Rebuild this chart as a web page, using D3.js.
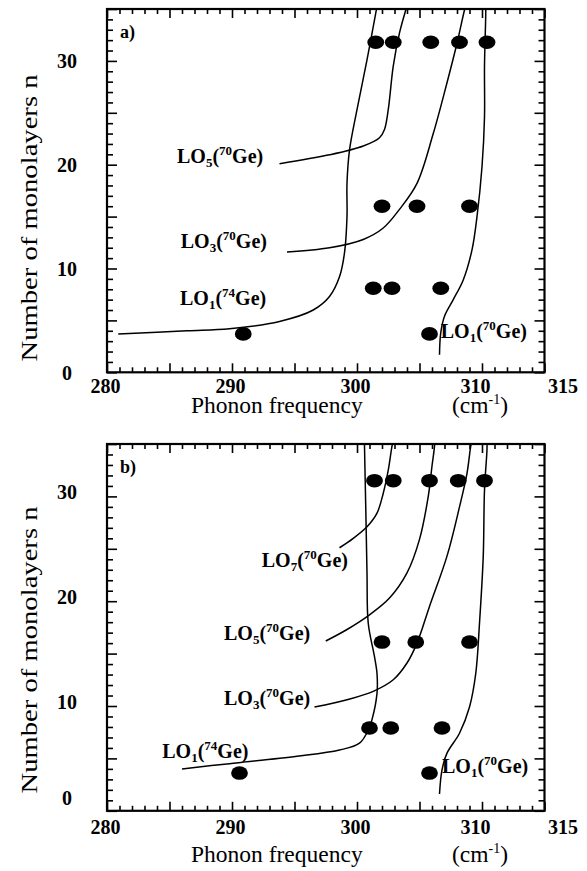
<!DOCTYPE html>
<html>
<head>
<meta charset="utf-8">
<script src="https://cdn.jsdelivr.net/npm/d3@7"></script>
<style>
body{margin:0;background:#fff;}
svg text{font-family:"Liberation Serif","Times New Roman",serif;fill:#000;}
</style>
</head>
<body>
<div id="chart"></div>
<script>
// axis values
const xTickLabels = [280, 290, 300, 310, 315];
const yTickLabels = [0, 10, 20, 30];
const xDomain = [280, 315];
const yDomain = [0, 35];

// panel a) : measured points [frequency, n]
const dotsA = [
    [301.5, 31.8], [302.9, 31.8], [305.9, 31.8], [308.2, 31.8], [310.4, 31.8],
    [302.0, 16.0], [304.8, 16.0], [309.0, 16.0],
    [301.3, 8.1], [302.8, 8.1], [306.7, 8.1],
    [290.9, 3.7], [305.8, 3.7]
];
// panel a) : calculated curves
const lo1_74A = [[280.9,3.7],[286.4,4.0],[289.8,4.2],[293.8,4.9],[296.5,6.0],[297.8,7.3],[298.6,9.2],[299.0,11.5],[299.2,15.0],[299.2,18.2],[299.4,21.4],[300.0,25.3],[300.8,30.1],[301.5,34.6],[301.6,35.3]];
const lo5_70A = [[293.8,20.1],[297.8,20.95],[300.5,21.8],[301.8,22.6],[302.2,23.4],[302.5,25.3],[302.9,29.5],[303.4,32.7],[303.9,34.9],[304.0,35.3]];
const lo3_70A = [[294.4,11.6],[297.8,12.0],[300.5,12.8],[302.1,13.9],[303.4,15.7],[304.8,18.2],[306.1,23.0],[307.2,27.9],[308.0,31.7],[308.6,34.9],[308.7,35.3]];
const lo1_70A = [[306.6,1.7],[306.7,3.8],[307.0,5.4],[307.7,7.0],[308.5,8.9],[309.2,11.8],[309.6,15.0],[310.0,19.8],[310.2,24.6],[310.2,29.5],[310.3,34.5],[310.3,35.3]];

// panel b)
const dotsB = [
    [301.4, 31.5], [302.9, 31.5], [305.8, 31.5], [308.1, 31.5], [310.2, 31.5],
    [302.0, 16.1], [304.7, 16.1], [309.0, 16.1],
    [301.0, 7.9], [302.7, 7.9], [306.8, 7.9],
    [290.6, 3.6], [305.8, 3.6]
];
const lo1_74B = [[286.0,4.0],[289.8,4.5],[295.2,5.2],[298.6,5.8],[300.2,6.45],[300.9,7.7],[301.2,8.7],[301.6,11.2],[301.6,13.1],[301.4,14.7],[300.9,17.9],[300.8,22.7],[300.7,29.0],[300.6,34.8],[300.6,35.3]];
const lo7_70B = [[298.6,25.1],[299.7,26.0],[300.8,27.1],[301.6,28.4],[302.1,30.3],[302.5,32.5],[302.8,34.8],[302.9,35.3]];
const lo5_70B = [[297.5,16.2],[299.2,17.3],[301.0,18.7],[302.6,20.3],[304.0,22.7],[305.0,25.9],[305.7,30.0],[306.0,32.9],[306.2,34.8],[306.2,35.3]];
const lo3_70B = [[296.6,9.9],[299.2,10.6],[301.3,11.4],[302.9,12.5],[304.0,14.1],[304.8,16.0],[305.8,19.5],[307.2,24.3],[308.2,29.0],[308.8,32.2],[309.1,34.8],[309.2,35.3]];
const lo1_70B = [[306.6,1.6],[306.8,3.9],[307.2,5.5],[308.2,7.4],[309.0,9.9],[309.5,13.1],[309.8,17.9],[310.1,24.3],[310.2,30.6],[310.4,34.5],[310.4,35.3]];

// mode labels: [order, isotope]
const labelsA = [["5","70"],["3","70"],["1","74"],["1","70"]];
const labelsB = [["7","70"],["5","70"],["3","70"],["1","74"],["1","70"]];

const serif = "'Liberation Serif','Times New Roman',serif";
const width = 587, height = 871;
const svg = d3.select("#chart").append("svg")
    .attr("width", width)
    .attr("height", height)
    .attr("font-family", serif);

const panels = [
    {
        id: "a", name: "a)", top: 9, bottom: 372.3,
        dots: dotsA, curves: [lo1_74A, lo5_70A, lo3_70A, lo1_70A],
        labels: labelsA,
        // label anchor in data coords (start of text, baseline)
        labelPos: [[285.6,20.15],[285.9,11.96],[285.84,6.49],[306.7,3.28]],
        yLabelShift: 0, zeroShift: 0, xLabelGap: 21, titleGap: 41, yTitleCenter: 218
    },
    {
        id: "b", name: "b)", top: 444, bottom: 810.8,
        dots: dotsB, curves: [lo1_74B, lo7_70B, lo5_70B, lo3_70B, lo1_70B],
        labels: labelsB,
        labelPos: [[292.38,23.31],[289.36,16.31],[289.36,10.1],[284.42,5.01],[306.8,3.58]],
        yLabelShift: -5, zeroShift: -8, xLabelGap: 23, titleGap: 51, yTitleCenter: 650
    }
];

const left = 107, right = 544.5;
// hand placed tick label nudges as in the original figure
const xLabelNudge = {280: -2, 290: -2, 300: -2, 310: -7, 315: 18};

function drawPanel(p){
    const g = svg.append("g").attr("class", "panel-" + p.id);
    const xScale = d3.scaleLinear().domain(xDomain).range([left, right]);
    const yScale = d3.scaleLinear().domain(yDomain).range([p.bottom, p.top]);

    const xMinor = d3.range(280, 316, 1).filter(v => v % 5 !== 0);
    const xMajor = d3.range(280, 316, 5);
    const yMinor = d3.range(0, 36, 1).filter(v => v % 5 !== 0);
    const yMajor = d3.range(0, 36, 5);

    // inward ticks on all four sides
    const tickAxes = [
        [d3.axisBottom, "translate(0," + p.bottom + ")", xMinor, 5, xScale],
        [d3.axisBottom, "translate(0," + p.bottom + ")", xMajor, 9, xScale],
        [d3.axisTop, "translate(0," + p.top + ")", xMinor, 5, xScale],
        [d3.axisTop, "translate(0," + p.top + ")", xMajor, 9, xScale],
        [d3.axisLeft, "translate(" + left + ",0)", yMinor, 6, yScale],
        [d3.axisLeft, "translate(" + left + ",0)", yMajor, 10, yScale],
        [d3.axisRight, "translate(" + right + ",0)", yMinor, 6, yScale],
        [d3.axisRight, "translate(" + right + ",0)", yMajor, 10, yScale]
    ];
    tickAxes.forEach(([axisFn, tr, vals, len, sc]) => {
        const ag = g.append("g")
            .attr("transform", tr)
            .call(axisFn(sc).tickValues(vals).tickSize(-len).tickFormat(""));
        ag.select(".domain").remove();
        ag.selectAll("line").attr("stroke", "#000").attr("stroke-width", 1.6);
    });

    // frame
    g.append("rect")
        .attr("x", left).attr("y", p.top)
        .attr("width", right - left).attr("height", p.bottom - p.top)
        .attr("fill", "none").attr("stroke", "#000").attr("stroke-width", 2.2);

    // x tick labels
    const xl = g.append("g")
        .attr("transform", "translate(0," + p.bottom + ")")
        .call(d3.axisBottom(xScale).tickValues(xTickLabels).tickSize(0));
    xl.attr("font-family", serif);
    xl.select(".domain").remove();
    xl.selectAll("text")
        .attr("font-size", 20).attr("font-weight", "bold")
        .attr("fill", "#000")
        .attr("dy", null).attr("y", p.xLabelGap)
        .attr("dx", d => xLabelNudge[d] || 0);

    // y tick labels
    const yl = g.append("g")
        .attr("transform", "translate(" + left + ",0)")
        .call(d3.axisLeft(yScale).tickValues(yTickLabels).tickSize(0));
    yl.attr("font-family", serif);
    yl.select(".domain").remove();
    yl.selectAll("text")
        .attr("font-size", 20).attr("font-weight", "bold")
        .attr("fill", "#000")
        .attr("text-anchor", "middle")
        .attr("x", -40)
        .attr("dy", "0.35em")
        .attr("y", d => p.yLabelShift + (d === 0 ? p.zeroShift : 0));

    // curves
    const clipId = "clip-" + p.id;
    svg.append("clipPath").attr("id", clipId)
        .append("rect")
        .attr("x", left).attr("y", p.top)
        .attr("width", right - left).attr("height", p.bottom - p.top);

    const line = d3.line()
        .x(d => xScale(d[0]))
        .y(d => yScale(d[1]))
        .curve(d3.curveCatmullRom.alpha(0.5));

    g.append("g").attr("clip-path", "url(#" + clipId + ")")
        .selectAll("path")
        .data(p.curves)
        .join("path")
        .attr("d", line)
        .attr("fill", "none")
        .attr("stroke", "#000")
        .attr("stroke-width", 1.5);

    // measured points
    g.selectAll(".dot")
        .data(p.dots)
        .join("ellipse")
        .attr("class", "dot")
        .attr("cx", d => xScale(d[0]))
        .attr("cy", d => yScale(d[1]))
        .attr("rx", 8.4)
        .attr("ry", 6.8)
        .attr("fill", "#000");

    // mode labels  LOm(iGe)
    p.labels.forEach((lab, i) => {
        const pos = p.labelPos[i];
        const t = g.append("text")
            .attr("x", xScale(pos[0]))
            .attr("y", yScale(pos[1]))
            .attr("font-size", 20)
            .attr("font-weight", "bold");
        t.append("tspan").text("LO");
        t.append("tspan").attr("font-size", 13).attr("dy", 4).text(lab[0]);
        t.append("tspan").attr("dy", -4).text("(");
        t.append("tspan").attr("font-size", 13).attr("dy", -8).text(lab[1]);
        t.append("tspan").attr("dy", 8).text("Ge)");
    });

    // panel name
    g.append("text")
        .attr("x", 120)
        .attr("y", p.top + 29)
        .attr("font-size", 18)
        .attr("font-weight", "bold")
        .text(p.name);

    // axis titles
    g.append("text")
        .attr("x", 191)
        .attr("y", p.bottom + p.titleGap)
        .attr("font-size", 23.5)
        .text("Phonon frequency");
    const cm = g.append("text")
        .attr("x", 452)
        .attr("y", p.bottom + p.titleGap)
        .attr("font-size", 23.5);
    cm.append("tspan").text("(cm");
    cm.append("tspan").attr("font-size", 14).attr("dy", -9).text("-1");
    cm.append("tspan").attr("dy", 9).text(")");

    g.append("text")
        .attr("transform", "translate(36.5," + p.yTitleCenter + ") rotate(-90)")
        .attr("text-anchor", "middle")
        .attr("font-size", 24)
        .attr("textLength", 287)
        .attr("lengthAdjust", "spacingAndGlyphs")
        .text("Number of monolayers n");
}

panels.forEach(drawPanel);
</script>
</body>
</html>
